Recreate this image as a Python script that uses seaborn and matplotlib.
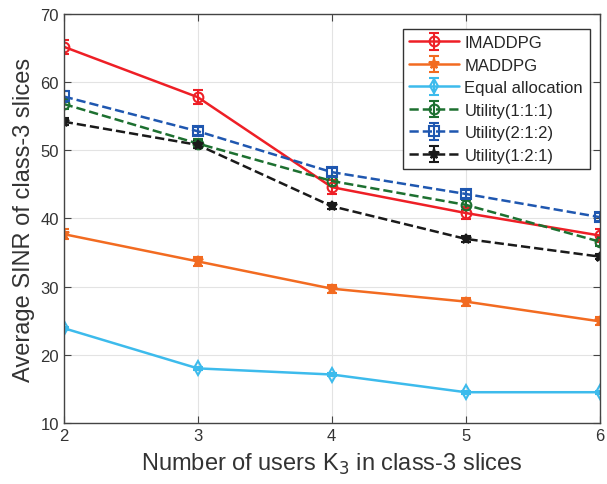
import matplotlib
matplotlib.use("Agg")
import matplotlib.pyplot as plt
import numpy as np
import seaborn as sns

sns.set_style("whitegrid")
plt.rcParams['font.family'] = ['Liberation Sans', 'DejaVu Sans']

users = [2, 3, 4, 5, 6]

imaddpg = [65.2, 57.8, 44.6, 40.8, 37.5]
imaddpg_err = [1.0, 1.0, 1.0, 0.9, 0.9]
maddpg = [37.7, 33.7, 29.7, 27.8, 24.9]
maddpg_err = [0.7, 0.7, 0.6, 0.6, 0.6]
equal = [23.9, 18.0, 17.1, 14.5, 14.5]
equal_err = [0.2, 0.2, 0.2, 0.2, 0.2]
util_111 = [56.8, 51.0, 45.5, 42.0, 36.6]
util_111_err = [0.7, 0.6, 0.7, 0.7, 0.7]
util_212 = [57.9, 52.8, 46.8, 43.6, 40.2]
util_212_err = [0.8, 0.6, 0.6, 0.6, 0.6]
util_121 = [54.2, 50.8, 41.8, 37.0, 34.4]
util_121_err = [0.5, 0.5, 0.4, 0.4, 0.4]

series = [
    ("IMADDPG", imaddpg, imaddpg_err, "#ee1f26", "o", "-", "none"),
    ("MADDPG", maddpg, maddpg_err, "#f26b21", "*", "-", "#f26b21"),
    ("Equal allocation", equal, equal_err, "#3dbbec", "d", "-", "none"),
    ("Utility(1:1:1)", util_111, util_111_err, "#1d7030", "o", "--", "none"),
    ("Utility(2:1:2)", util_212, util_212_err, "#1f57b0", "s", "--", "none"),
    ("Utility(1:2:1)", util_121, util_121_err, "#1a1a1a", "*", "--", "#1a1a1a"),
]

fig = plt.figure(figsize=(6.07, 4.85), dpi=100)
ax = fig.add_axes([0.105, 0.126, 0.883, 0.843])

for name, vals, err, col, mk, ls, mfc in series:
    ax.errorbar(users, vals, yerr=err, color=col, marker=mk, linestyle=ls,
                linewidth=1.8, markersize=7, markerfacecolor=mfc,
                markeredgewidth=1.5, capsize=3.5, elinewidth=1.5,
                capthick=1.5, label=name)

ax.set_xlim(2, 6)
ax.set_ylim(10, 70)
ax.set_xticks(users)
ax.set_yticks(np.arange(10, 71, 10))
ax.grid(True, color="#e3e3e3", linewidth=0.8)
for s in ax.spines.values():
    s.set_color("#444444")
    s.set_linewidth(1.0)
ax.tick_params(direction="in", length=5, colors="#444444", labelsize=12,
               right=True, top=True, bottom=True, left=True, labelcolor="#333333")

ax.set_xlabel("Number of users K$_3$ in class-3 slices", fontsize=17, color="#333333",
              labelpad=6)
ax.set_ylabel("Average SINR of class-3 slices", fontsize=17, color="#333333",
              labelpad=4)

leg = ax.legend(loc="upper right", fontsize=12, frameon=True, fancybox=False,
                edgecolor="#333333", framealpha=1, handlelength=3.0,
                borderpad=0.4, labelspacing=0.45, handletextpad=0.3,
                bbox_to_anchor=(0.997, 0.985))
leg.get_frame().set_linewidth(1.0)

fig.savefig("out.png", dpi=100)
